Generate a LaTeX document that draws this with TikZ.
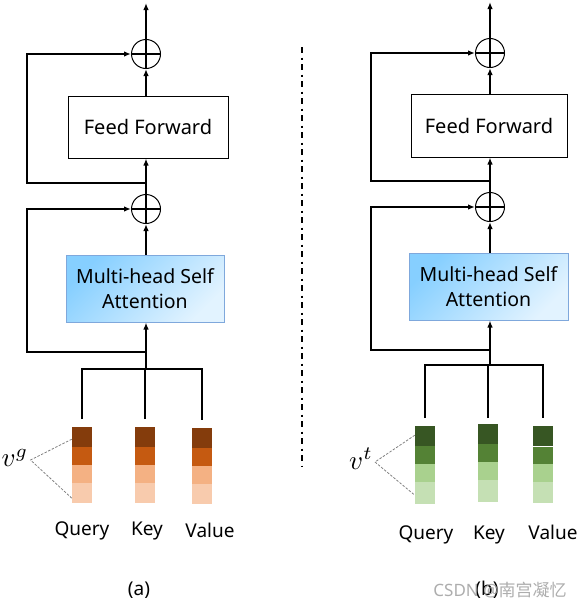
\documentclass[tikz,border=0pt]{standalone}
\usepackage{fontspec}
\setmainfont{Noto Sans}
\newfontfamily\cjkfont{Noto Sans CJK SC}
\usetikzlibrary{arrows.meta}
\definecolor{brA}{HTML}{843C0C}
\definecolor{brB}{HTML}{C55A11}
\definecolor{brC}{HTML}{F4B183}
\definecolor{brD}{HTML}{F8CBAD}
\definecolor{grA}{HTML}{375623}
\definecolor{grB}{HTML}{548235}
\definecolor{grC}{HTML}{A9D18E}
\definecolor{grD}{HTML}{C5E0B4}
\definecolor{attA}{HTML}{86CFFF}
\definecolor{attC}{HTML}{E2F3FF}
\definecolor{attB}{HTML}{7FA8DC}
\newcommand{\tokfill}[5]{%
  \fill[#2] (#1.north west) rectangle ([yshift=-20pt]#1.north east);
  \fill[#3] ([yshift=-20pt]#1.north west) rectangle ([yshift=-38pt]#1.north east);
  \fill[#4] ([yshift=-38pt]#1.north west) rectangle ([yshift=-56pt]#1.north east);
  \fill[#5] ([yshift=-56pt]#1.north west) rectangle (#1.south east);}
\begin{document}
\begin{tikzpicture}[x=1pt,y=-1pt,
  line/.style={line width=1.5pt},
  arr/.style={line width=1.5pt,-{Latex[length=7pt,width=5.5pt]}},
  sumnode/.style={circle,draw,line width=1pt,minimum size=29pt,inner sep=0pt,
    path picture={\draw[line width=1.2pt] (path picture bounding box.north) -- (path picture bounding box.south)
      (path picture bounding box.west) -- (path picture bounding box.east);}},
  ffbox/.style={draw,line width=1pt,fill=white,font=\fontsize{20}{24}\selectfont},
  attbox/.style={draw=attB,line width=1pt,top color=attA,bottom color=attC,shading angle=45,
    align=center,font=\fontsize{19.5}{25}\selectfont},
  tok/.style={minimum width=20pt,minimum height=76pt,inner sep=0pt,anchor=north},
  lab/.style={font=\fontsize{19}{23}\selectfont},
  vlab/.style={inner sep=1pt},
  vdash/.style={gray,line width=0.8pt,dash pattern=on 2.5pt off 1.5pt},
]
\useasboundingbox (0,0) rectangle (584,605);

% ---------------- left panel ----------------
\node[sumnode] (pl2L) at (146,54) {};
\node[ffbox,minimum width=160pt,minimum height=62pt] (ffL) at (148,127) {Feed Forward};
\node[sumnode] (pl1L) at (146,209) {};
\node[attbox,minimum width=158pt,minimum height=67pt] (attL) at (145,288.5) {Multi-head Self\\Attention};
\coordinate (topL) at (146,3);
\coordinate (jL1) at (146,183);
\coordinate (cL1) at (27,183);
\coordinate (jL2) at (146,352);
\coordinate (cL2) at (27,352);
\coordinate (inL) at (146,369);

\draw[arr] (pl2L.north) -- (topL);
\draw[arr] (pl2L.south |- ffL.north) -- (pl2L.south);
\draw[arr] (pl1L.north) -- (pl1L.north |- ffL.south);
\draw[arr] (jL1) -- (cL1) |- (pl2L.west);
\draw[arr] (pl1L.south |- attL.north) -- (pl1L.south);
\draw[arr] (inL) -- (inL |- attL.south);
\draw[arr] (jL2) -- (cL2) |- (pl1L.west);

\node[tok] (qL) at (82,427) {};
\node[tok] (kL) at (145,427) {};
\node[tok] (vL) at (202,428) {};
\tokfill{qL}{brA}{brB}{brC}{brD}
\tokfill{kL}{brA}{brB}{brC}{brD}
\tokfill{vL}{brA}{brB}{brC}{brD}

\draw[line] ([yshift=8pt]qL.north) -- (qL.north |- inL) -- (vL.north |- inL) -- ([yshift=8pt]vL.north);
\draw[line] ([yshift=8pt]kL.north) -- (kL.north |- inL);

\node[vlab] (vg) at (15,458) {\scalebox{2.7}{$v^g$}};
\draw[vdash] ([yshift=26pt]qL.west) -- ([xshift=1pt,yshift=-2pt]vg.east) -- ([yshift=-33pt]qL.west);

\node[lab] (qtL) at (82,531) {Query};
\node[lab] (ktL) at (147,531) {Key};
\node[lab] (vtL) at (210,530) {Value};
\node[lab] (capA) at (139,590) {(a)};

% ---------------- divider ----------------
\coordinate (dtop) at (302,47);
\coordinate (dbot) at (302,466);
\draw[line width=1.5pt,dash pattern=on 6pt off 4.5pt on 2pt off 4.5pt] (dtop) -- (dbot);

% ---------------- right panel ----------------
\node[sumnode] (pl2R) at (490,53) {};
\node[ffbox,minimum width=156pt,minimum height=63pt] (ffR) at (489,125.5) {Feed Forward};
\node[sumnode] (pl1R) at (490,207) {};
\node[attbox,minimum width=159pt,minimum height=67pt] (attR) at (488.5,286.5) {Multi-head Self\\Attention};
\coordinate (topR) at (490,2);
\coordinate (jR1) at (490,181);
\coordinate (cR1) at (371,181);
\coordinate (jR2) at (490,350);
\coordinate (cR2) at (371,350);
\coordinate (inR) at (490,365);

\draw[arr] (pl2R.north) -- (topR);
\draw[arr] (pl2R.south |- ffR.north) -- (pl2R.south);
\draw[arr] (pl1R.north) -- (pl1R.north |- ffR.south);
\draw[arr] (jR1) -- (cR1) |- (pl2R.west);
\draw[arr] (pl1R.south |- attR.north) -- (pl1R.south);
\draw[arr] (inR) -- (inR |- attR.south);
\draw[arr] (jR2) -- (cR2) |- (pl1R.west);

\node[tok,minimum height=78pt] (qR) at (425,426) {};
\node[tok,minimum height=78pt] (kR) at (488,424) {};
\node[tok,minimum height=77pt] (vR) at (543,426) {};
\tokfill{qR}{grA}{grB}{grC}{grD}
\tokfill{kR}{grA}{grB}{grC}{grD}
\tokfill{vR}{grA}{grB}{grC}{grD}
\draw[white,line width=1pt] ([yshift=-20pt]vR.north west) -- ([yshift=-20pt]vR.north east);

\draw[line] ([yshift=8pt]qR.north) -- (qR.north |- inR) -- (vR.north |- inR) -- ([yshift=8pt]vR.north);
\draw[line] ([yshift=6pt]kR.north) -- (kR.north |- inR);

\node[vlab] (vt) at (361,459) {\scalebox{2.7}{$v^t$}};
\draw[vdash] ([yshift=30pt]qR.west) -- ([xshift=1pt,yshift=-3pt]vt.east) -- ([yshift=-30pt]qR.west);

\node[lab] (qtR) at (426,535) {Query};
\node[lab] (ktR) at (489,535) {Key};
\node[lab] (vtR) at (553,532) {Value};
\node[lab] (capB) at (487,590) {(b)};

\node[text=gray!75,opacity=0.85,font=\fontsize{17}{20}\selectfont] (wm) at (500,590) {CSDN @{\cjkfont 南宫凝忆}};
\end{tikzpicture}
\end{document}
